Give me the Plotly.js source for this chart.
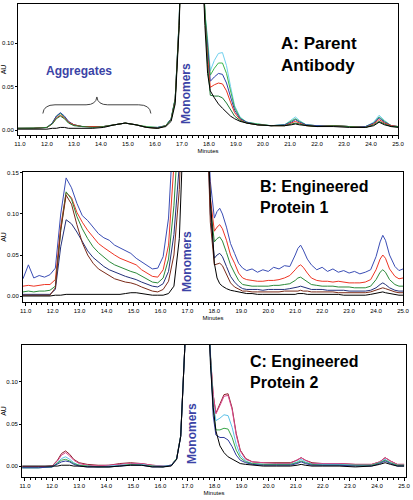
<!DOCTYPE html>
<html>
<head>
<meta charset="utf-8">
<script src="https://cdn.plot.ly/plotly-3.0.1.min.js"></script>
<style>html,body{margin:0;padding:0;background:#fff;}#chart{width:413px;height:500px;}</style>
</head>
<body>
<div id="chart"></div>
<script>
// ---------- shared time grids (minutes) ----------
const tAC = [10.9, 11.5, 12.0, 12.2, 12.35, 12.5, 12.65, 12.8, 13.0, 13.3, 13.7, 14.1, 14.5, 14.9, 15.3, 15.7, 16.1, 16.4, 16.6, 16.75,
             16.9, 17.05, 17.3, 17.55, 17.75,
             17.85, 17.95, 18.05, 18.2, 18.35, 18.5, 18.65, 18.8, 18.95,
             19.15, 19.4, 19.8, 20.3, 20.8, 21.05, 21.2, 21.35, 21.6, 22.0, 22.6, 23.2, 23.8, 24.1, 24.3, 24.5, 24.75, 25.0];
const tB = [10.9, 11.1, 11.3, 11.5, 11.7, 11.9,
            12.1, 12.3, 12.5, 12.7, 12.9, 13.1, 13.3, 13.5, 13.7, 13.9, 14.1, 14.3, 14.5, 14.7, 14.9, 15.1, 15.3, 15.5, 15.7, 15.9,
            16.1, 16.3, 16.5, 16.7, 16.9,
            17.1, 17.3, 17.5, 17.7,
            17.85, 18.0, 18.1, 18.2, 18.3, 18.45, 18.6, 18.75, 18.9, 19.05, 19.2, 19.4, 19.6, 19.8, 20.0, 20.2, 20.4, 20.6, 20.8,
            21.0, 21.1, 21.2, 21.3, 21.45, 21.6, 21.8, 22.0, 22.2, 22.4, 22.6, 22.8, 23.0, 23.2, 23.4, 23.6, 23.8, 24.0, 24.15, 24.25, 24.35, 24.5, 24.7, 24.85, 25.0];

// ---------- Panel A: Parent Antibody (AU) ----------
const aBlack = [.001,.001,.001,.002,.002,.003,.003,.002,.002,.002,.002,.003,.006,.008,.006,.003,.002,.004,.010,.030,
  .120,.300,.600,.450,.200,
  .120,.065,.045,.037,.030,.025,.020,.016,.013,
  .010,.008,.006,.005,.005,.006,.007,.006,.005,.004,.004,.003,.003,.005,.009,.006,.004,.003];
const aDkGreen = [.002,.002,.003,.007,.013,.016,.013,.008,.005,.004,.003,.004,.006,.008,.006,.003,.002,.005,.012,.035,
  .125,.300,.600,.450,.200,
  .130,.075,.040,.039,.039,.037,.031,.023,.016,
  .011,.008,.006,.005,.005,.007,.008,.007,.005,.004,.005,.004,.003,.006,.010,.007,.004,.004];
const aRed = [.002,.002,.003,.007,.014,.017,.014,.009,.006,.004,.004,.004,.006,.008,.006,.003,.002,.005,.012,.035,
  .125,.300,.600,.450,.200,
  .130,.085,.049,.052,.054,.053,.045,.032,.020,
  .012,.008,.006,.005,.005,.008,.010,.008,.005,.004,.005,.004,.003,.007,.012,.008,.005,.004];
const aBlue = [.002,.002,.003,.008,.016,.020,.016,.010,.006,.004,.004,.004,.006,.008,.006,.003,.003,.005,.013,.036,
  .128,.300,.600,.450,.200,
  .130,.095,.056,.061,.065,.064,.054,.038,.023,
  .013,.009,.006,.005,.006,.009,.012,.009,.006,.005,.005,.004,.004,.008,.014,.009,.005,.004];
const aGreen = [.002,.003,.003,.008,.016,.019,.015,.009,.006,.004,.004,.004,.006,.008,.006,.004,.003,.005,.013,.036,
  .128,.300,.600,.450,.200,
  .135,.100,.063,.071,.077,.077,.065,.045,.026,
  .014,.009,.007,.005,.006,.010,.013,.010,.006,.005,.005,.004,.004,.008,.015,.010,.005,.004];
const aCyan = [.002,.002,.003,.008,.015,.019,.015,.009,.006,.004,.004,.004,.006,.008,.006,.003,.003,.005,.013,.036,
  .128,.300,.600,.450,.200,
  .135,.105,.068,.080,.088,.089,.074,.050,.028,
  .015,.009,.007,.005,.006,.011,.015,.011,.006,.005,.005,.004,.004,.009,.017,.011,.005,.004];

// ---------- Panel B: Engineered Protein 1 (AU) ----------
const bBlack = [0,0,0,0,0,0,
  .001,.001,.002,.002,.002,.002,.002,.002,.002,.002,.002,.002,.002,.003,.004,.004,.003,.002,.001,.001,
  .001,.003,.012,.070,.250,
  .6,.7,.5,.25,
  .120,.040,.022,.015,.012,.009,.007,.006,.005,.004,.003,.003,.002,.002,.002,.002,.002,.002,.002,
  .002,.003,.003,.003,.002,.002,.002,.002,.002,.002,.002,.001,.001,.001,.001,.001,.002,.003,.004,.005,.004,.003,.002,.001,.001];
const bBrown = [.001,.001,.001,.001,.001,.001,
  .010,.080,.123,.112,.087,.065,.050,.040,.033,.029,.025,.021,.019,.017,.016,.014,.011,.008,.006,.005,
  .008,.018,.050,.130,.300,
  .6,.7,.5,.25,
  .090,.038,.039,.040,.037,.027,.016,.011,.008,.006,.006,.005,.005,.005,.005,.005,.005,.006,.006,
  .006,.006,.007,.006,.006,.005,.005,.005,.005,.005,.004,.004,.004,.004,.004,.004,.005,.007,.009,.010,.009,.007,.005,.004,.004];
const bNavy = [.002,.002,.002,.002,.002,.002,
  .008,.060,.093,.088,.078,.066,.055,.047,.041,.036,.032,.029,.027,.024,.022,.020,.017,.014,.012,.011,
  .015,.030,.075,.160,.350,
  .6,.7,.5,.25,
  .100,.046,.050,.052,.048,.036,.024,.017,.012,.009,.008,.008,.008,.007,.008,.008,.008,.008,.009,
  .010,.011,.012,.011,.009,.008,.008,.008,.007,.007,.007,.007,.006,.006,.006,.006,.007,.010,.014,.016,.014,.010,.007,.006,.006];
const bGreen = [.005,.006,.005,.006,.006,.007,
  .012,.080,.127,.118,.097,.082,.070,.060,.053,.047,.042,.038,.035,.032,.030,.028,.024,.020,.017,.016,
  .022,.045,.110,.220,.400,
  .6,.7,.5,.25,
  .110,.066,.070,.072,.067,.053,.038,.028,.019,.014,.013,.012,.012,.012,.012,.013,.013,.014,.015,
  .019,.022,.023,.021,.017,.014,.013,.012,.012,.012,.011,.011,.011,.010,.010,.010,.012,.020,.029,.032,.029,.020,.014,.012,.012];
const bRed = [.012,.013,.012,.013,.014,.014,
  .020,.085,.126,.120,.102,.090,.080,.072,.064,.059,.054,.050,.046,.043,.040,.038,.032,.028,.024,.023,
  .032,.062,.160,.300,.450,
  .6,.7,.5,.25,
  .120,.079,.084,.087,.082,.068,.050,.040,.028,.022,.020,.019,.018,.018,.019,.019,.020,.022,.025,
  .032,.036,.038,.035,.028,.022,.019,.018,.018,.017,.018,.017,.016,.016,.016,.017,.020,.032,.045,.050,.046,.033,.024,.021,.022];
const bBlue = [.021,.038,.022,.025,.023,.026,
  .034,.100,.144,.132,.113,.098,.092,.084,.076,.071,.068,.062,.059,.055,.052,.046,.042,.037,.033,.034,
  .048,.095,.220,.400,.500,
  .6,.7,.5,.25,
  .140,.095,.103,.107,.100,.084,.064,.052,.040,.034,.031,.033,.029,.032,.030,.035,.033,.037,.036,
  .050,.058,.062,.056,.045,.038,.032,.035,.030,.033,.029,.031,.028,.030,.027,.029,.032,.048,.066,.074,.068,.050,.036,.031,.033];

// ---------- Panel C: Engineered Protein 2 (AU) ----------
const cBlack = [.000,.000,.000,.000,.001,.001,.001,.000,.000,-.001,-.001,-.001,.000,.001,.001,-.001,-.001,.000,.008,.035,
  .140,.300,.600,.450,.200,
  .120,.070,.042,.024,.016,.011,.008,.005,.003,
  .002,.001,.000,.000,.000,.001,.002,.001,.000,.000,.000,-.001,.000,.002,.004,.002,.000,.000];
const cNavy = [-.002,-.002,-.001,.002,.005,.006,.005,.002,.000,-.001,-.001,-.001,.000,.001,.001,-.001,-.001,.001,.008,.035,
  .140,.300,.600,.450,.200,
  .120,.060,.037,.034,.034,.031,.023,.013,.007,
  .004,.002,.001,.001,.001,.003,.005,.003,.001,.001,.001,.000,.000,.003,.006,.003,.000,.000];
const cGreen = [-.002,-.002,-.001,.003,.007,.008,.006,.003,.001,.000,-.001,-.001,.000,.002,.001,.000,-.001,.001,.009,.036,
  .140,.300,.600,.450,.200,
  .125,.068,.043,.043,.045,.044,.034,.019,.010,
  .005,.003,.002,.002,.002,.004,.006,.004,.002,.001,.001,.001,.001,.004,.007,.004,.001,.001];
const cCyan = [-.002,-.002,-.001,.004,.009,.011,.008,.004,.001,.000,-.001,.000,.001,.002,.002,.000,.000,.001,.009,.036,
  .140,.300,.600,.450,.200,
  .125,.075,.054,.057,.061,.060,.046,.026,.013,
  .006,.003,.002,.002,.002,.005,.008,.005,.002,.002,.002,.001,.001,.004,.008,.004,.001,.001];
const cPink = [-.001,-.001,.000,.006,.013,.016,.012,.007,.003,.001,.000,.001,.002,.003,.003,.001,.000,.001,.009,.036,
  .140,.300,.600,.450,.200,
  .130,.085,.062,.072,.083,.084,.067,.037,.018,
  .008,.005,.004,.003,.003,.007,.010,.007,.003,.003,.003,.002,.002,.005,.010,.006,.002,.002];
const cDarkRed = [-.001,-.001,.000,.007,.015,.018,.014,.008,.004,.002,.001,.001,.003,.004,.003,.001,.000,.001,.009,.036,
  .140,.300,.600,.450,.200,
  .130,.085,.063,.074,.085,.086,.069,.039,.019,
  .009,.005,.004,.004,.004,.007,.010,.007,.004,.003,.003,.002,.002,.005,.010,.006,.002,.002];

// ---------- tick labels ----------
const xTickVals = [11,12,13,14,15,16,17,18,19,20,21,22,23,24,25];
const yTickValsAC = [0, 0.05, 0.10];
const yTickValsB = [0, 0.05, 0.10, 0.15];

// ---------- traces ----------
function line(x, y, color, xa, ya) {
  return {x: x, y: y, type: 'scatter', mode: 'lines', xaxis: xa, yaxis: ya,
          line: {color: color, width: 1}, hoverinfo: 'skip', showlegend: false};
}
const data = [
  line(tAC, aCyan, '#6fd0ee', 'x', 'y'),
  line(tAC, aGreen, '#3cb54a', 'x', 'y'),
  line(tAC, aBlue, '#2b3fa8', 'x', 'y'),
  line(tAC, aRed, '#e8321e', 'x', 'y'),
  line(tAC, aDkGreen, '#1f7a35', 'x', 'y'),
  line(tAC, aBlack, '#000000', 'x', 'y'),

  line(tB, bBlue, '#3a4db5', 'x2', 'y2'),
  line(tB, bRed, '#ee3524', 'x2', 'y2'),
  line(tB, bGreen, '#2b8a3a', 'x2', 'y2'),
  line(tB, bNavy, '#23307a', 'x2', 'y2'),
  line(tB, bBrown, '#7a2a18', 'x2', 'y2'),
  line(tB, bBlack, '#000000', 'x2', 'y2'),

  line(tAC, cDarkRed, '#8e1d2a', 'x3', 'y3'),
  line(tAC, cPink, '#d8488c', 'x3', 'y3'),
  line(tAC, cCyan, '#5bc0e8', 'x3', 'y3'),
  line(tAC, cGreen, '#3aa64a', 'x3', 'y3'),
  line(tAC, cNavy, '#2e3a9c', 'x3', 'y3'),
  line(tAC, cBlack, '#000000', 'x3', 'y3')
];

const FONT = 'Liberation Sans, Arial, sans-serif';
function xAxis(domain, range, anchor) {
  return {domain: domain, range: range, anchor: anchor,
    tickmode: 'array', tickvals: xTickVals, tickformat: '.1f',
    ticks: 'outside', ticklen: 3, tickwidth: 1, tickcolor: '#000',
    minor: {dtick: 0.2, tick0: 11, ticks: 'outside', ticklen: 2, tickcolor: '#000', showgrid: false},
    showline: true, linecolor: '#000', linewidth: 1, mirror: true,
    showgrid: false, zeroline: false,
    tickfont: {family: FONT, size: 6, color: '#000'},
    title: {text: 'Minutes', font: {family: FONT, size: 6, color: '#000'}, standoff: 2}};
}
function yAxis(domain, range, anchor, vals) {
  return {domain: domain, range: range, anchor: anchor,
    tickmode: 'array', tickvals: vals, tickformat: '.2f',
    ticks: 'outside', ticklen: 2, tickwidth: 1, tickcolor: '#000',
    showline: true, linecolor: '#000', linewidth: 1, mirror: true,
    showgrid: false, zeroline: false,
    tickfont: {family: FONT, size: 6, color: '#000'},
    title: {text: 'AU', font: {family: FONT, size: 7, color: '#000'}, standoff: 1}};
}

const BLUE_TXT = '#3b43a6';
const layout = {
  width: 413, height: 500,
  margin: {l: 0, r: 0, t: 0, b: 0},
  paper_bgcolor: '#fff', plot_bgcolor: '#fff',
  showlegend: false,
  xaxis: xAxis([0.0436, 0.9637], [10.93, 25.0], 'y'),
  yaxis: yAxis([0.73, 0.992], [-0.0057, 0.1448], 'x', yTickValsAC),
  xaxis2: xAxis([0.0557, 0.9758], [10.9, 25.0], 'y2'),
  yaxis2: yAxis([0.396, 0.656], [-0.0073, 0.1512], 'x2', yTickValsB),
  xaxis3: xAxis([0.0533, 0.983], [10.89, 25.07], 'y3'),
  yaxis3: yAxis([0.046, 0.31], [-0.013, 0.144], 'x3', yTickValsAC),
  shapes: [{
    type: 'path', xref: 'x', yref: 'y',
    path: 'M 11.85,0.019 Q 11.88,0.029 12.3,0.029 L 13.45,0.029 Q 13.82,0.029 13.85,0.038 Q 13.88,0.029 14.25,0.029 L 15.4,0.029 Q 15.82,0.029 15.85,0.019',
    line: {color: '#444', width: 1}
  }],
  annotations: [
    {text: '<b>A: Parent<br>Antibody</b>', xref: 'paper', yref: 'paper', x: 0.676, y: 0.936,
     xanchor: 'left', yanchor: 'top', align: 'left', showarrow: false,
     font: {family: FONT, size: 17, color: '#000'}},
    {text: '<b>B: Engineered<br>Protein 1</b>', xref: 'paper', yref: 'paper', x: 0.624, y: 0.648,
     xanchor: 'left', yanchor: 'top', align: 'left', showarrow: false,
     font: {family: FONT, size: 16, color: '#000'}},
    {text: '<b>C: Engineered<br>Protein 2</b>', xref: 'paper', yref: 'paper', x: 0.600, y: 0.298,
     xanchor: 'left', yanchor: 'top', align: 'left', showarrow: false,
     font: {family: FONT, size: 16, color: '#000'}},
    {text: '<b>Monomers</b>', xref: 'paper', yref: 'paper', x: 186/413, y: 1 - 94/500,
     xanchor: 'center', yanchor: 'middle', textangle: -90, showarrow: false,
     font: {family: FONT, size: 12, color: BLUE_TXT}},
    {text: '<b>Monomers</b>', xref: 'paper', yref: 'paper', x: 187/413, y: 1 - 262/500,
     xanchor: 'center', yanchor: 'middle', textangle: -90, showarrow: false,
     font: {family: FONT, size: 12, color: BLUE_TXT}},
    {text: '<b>Monomers</b>', xref: 'paper', yref: 'paper', x: 192/413, y: 1 - 434/500,
     xanchor: 'center', yanchor: 'middle', textangle: -90, showarrow: false,
     font: {family: FONT, size: 12, color: BLUE_TXT}},
    {text: '<b>Aggregates</b>', xref: 'paper', yref: 'paper', x: 79/413, y: 1 - 71/500,
     xanchor: 'center', yanchor: 'middle', showarrow: false,
     font: {family: FONT, size: 12, color: BLUE_TXT}}
  ]
};

Plotly.newPlot('chart', data, layout, {staticPlot: true, displayModeBar: false});
</script>
</body>
</html>
